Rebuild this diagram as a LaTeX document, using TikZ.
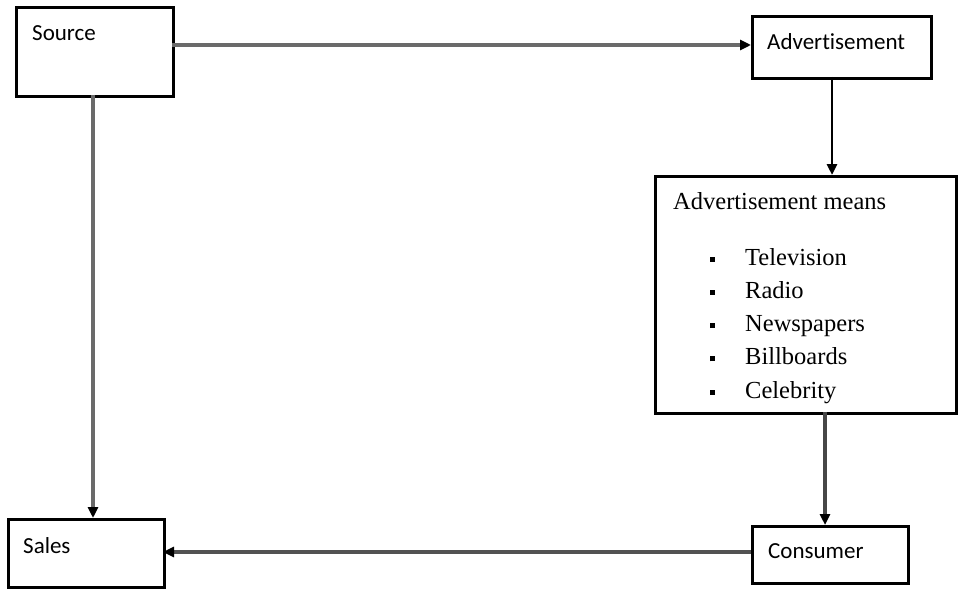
\documentclass[tikz,border=0pt]{standalone}
\usepackage{fontspec}
\setmainfont{Liberation Serif}
\newfontfamily\labelfont[Ligatures=NoCommon]{Carlito}
\usetikzlibrary{arrows.meta}
\definecolor{linegray}{HTML}{6a6a6a}
\tikzset{
  box/.style={draw=black, line width=2.6pt, inner sep=0pt, anchor=north west},
  lbl/.style={anchor=base west, inner sep=0pt, font=\labelfont\fontsize{23}{27}\selectfont},
  item/.style={anchor=base west, inner sep=0pt, font=\fontsize{24.5}{28}\selectfont},
  conn/.style={draw=linegray, line width=3.6pt, -{Triangle[length=11pt,width=10pt,color=black]}},
  connb/.style={draw=black, line width=2.8pt, -{Triangle[length=11pt,width=10pt,color=black]}}
}
\newcommand{\bul}{\raisebox{3.5pt}{\rule{5pt}{5pt}}\hspace{30pt}}
\begin{document}
\begin{tikzpicture}[x=1pt,y=-1pt]
\useasboundingbox (0,0) rectangle (960,591);
% boxes
\node[box, minimum width=157pt, minimum height=89pt] (source) at (15,6) {};
\node[box, minimum width=179pt, minimum height=62pt] (adv) at (751,15) {};
\node[box, minimum width=301pt, minimum height=237pt] (means) at (654,175) {};
\node[box, minimum width=156pt, minimum height=68pt] (sales) at (7,518) {};
\node[box, minimum width=156pt, minimum height=57pt] (consumer) at (751,525) {};
% labels
\node[lbl] (tsource) at (32,41) {Source};
\node[lbl] (tadv) at (767,50) {Advertisement};
\node[lbl] (tsales) at (23,553) {Sales};
\node[lbl] (tconsumer) at (768,558) {Consumer};
\node[item] (tmeans) at (673,209) {Advertisement means};
\node[item] (i1) at (710,265) {\bul Television};
\node[item] (i2) at (710,298.3) {\bul Radio};
\node[item] (i3) at (710,331.6) {\bul Newspapers};
\node[item] (i4) at (710,364.9) {\bul Billboards};
\node[item] (i5) at (710,398.2) {\bul Celebrity};
% connectors
\coordinate (s1) at (172,45);
\coordinate (a1) at (751,45);
\draw[conn] (s1) -- (a1);
\coordinate (s2) at (93,95);
\coordinate (sa2) at (93,518);
\draw[conn] (s2) -- (sa2);
\coordinate (ad1) at (832,77);
\coordinate (m1) at (832,175);
\draw[connb] (ad1) -- (m1);
\coordinate (m2) at (825,412);
\coordinate (c1) at (825,525);
\draw[conn, draw=black!72] (m2) -- (c1);
\coordinate (c2) at (751,552);
\coordinate (sa1) at (163,552);
\draw[conn, draw=black!68] (c2) -- (sa1);
\end{tikzpicture}
\end{document}
